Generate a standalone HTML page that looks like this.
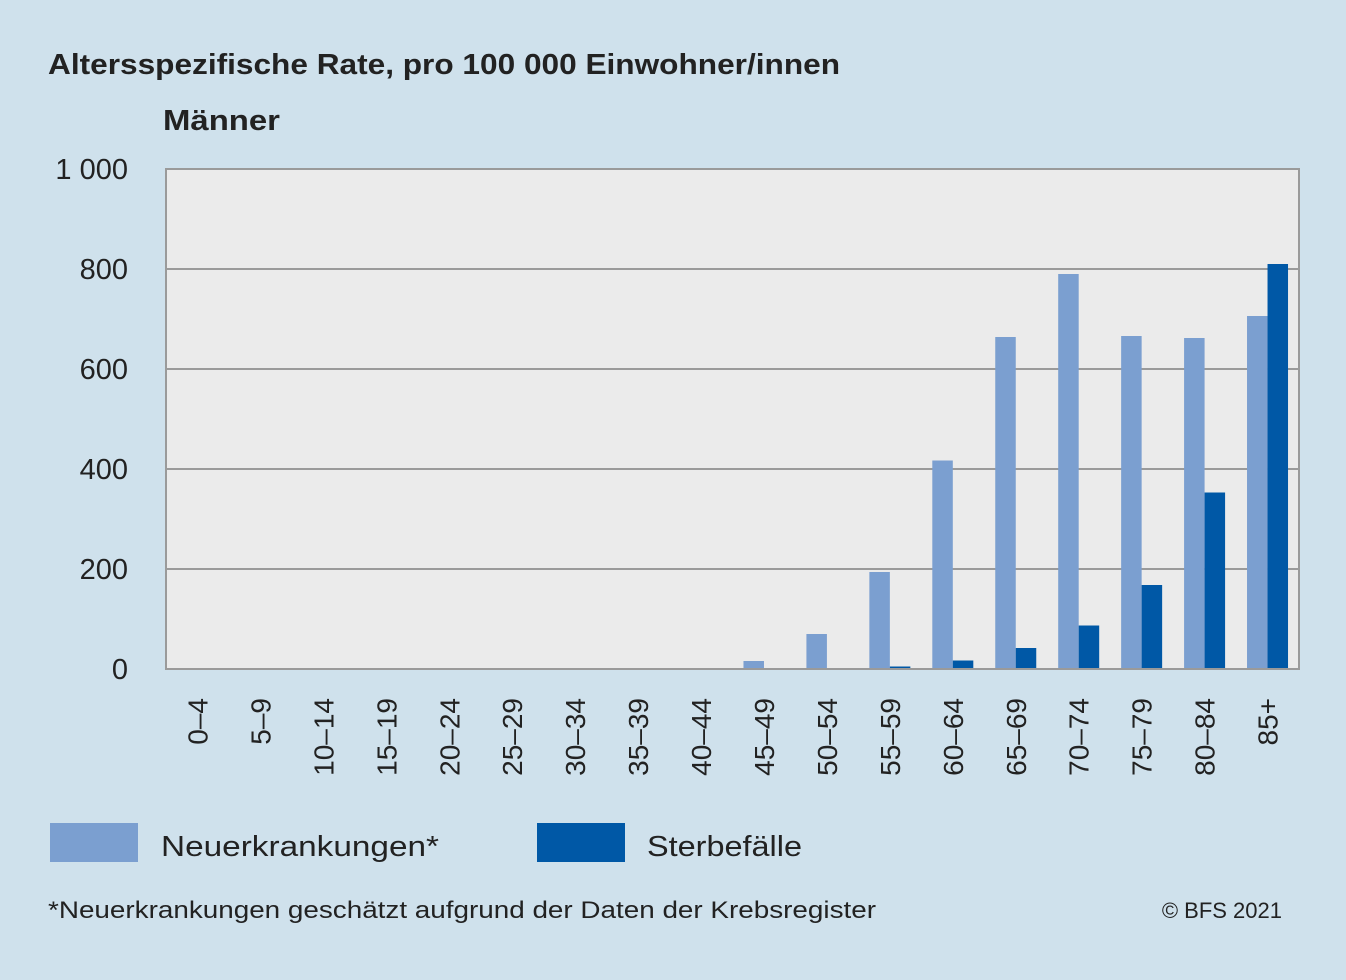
<!DOCTYPE html>
<html><head><meta charset="utf-8"><style>
body{margin:0;width:1346px;height:975px;background:#cfe1ec;font-family:"Liberation Sans",sans-serif;overflow:hidden}
</style></head><body>
<svg width="1346" height="975" id="c">
<text x="48" y="74" font-size="29" font-weight="bold" fill="#222" textLength="792" lengthAdjust="spacingAndGlyphs">Altersspezifische Rate, pro 100 000 Einwohner/innen</text>
<text x="163" y="130" font-size="29" font-weight="bold" fill="#222" textLength="117" lengthAdjust="spacingAndGlyphs">Männer</text>
<rect x="166" y="169" width="1133" height="500" fill="#ebebeb"/>
<g id="grid"></g><g id="bars"></g><g id="xt"></g>
<rect x="166" y="169" width="1133" height="500" fill="none" stroke="#9a9a9a" stroke-width="2"/>
<rect x="50" y="823" width="88" height="39" fill="#7b9fd0"/>
<text x="161" y="856" font-size="29" fill="#222" textLength="278" lengthAdjust="spacingAndGlyphs">Neuerkrankungen*</text>
<rect x="537" y="823" width="88" height="39" fill="#0058a6"/>
<text x="647" y="856" font-size="29" fill="#222" textLength="155" lengthAdjust="spacingAndGlyphs">Sterbefälle</text>
<text x="48" y="918" font-size="24" fill="#222" textLength="828" lengthAdjust="spacingAndGlyphs">*Neuerkrankungen geschätzt aufgrund der Daten der Krebsregister</text>
<text x="1282" y="918" font-size="22" fill="#222" text-anchor="end">© BFS 2021</text>
</svg>
<script>
const categories=["0–4","5–9","10–14","15–19","20–24","25–29","30–34","35–39","40–44","45–49","50–54","55–59","60–64","65–69","70–74","75–79","80–84","85+"];
const incidence=[0,0,0,0,0,0,0,0,2,16,70,194,417,664,790,666,662,706];
const deaths=[0,0,0,0,0,0,0,0,0,0,2,5,17,42,87,168,353,810];
const yTicks=[0,200,400,600,800,1000];
const yTickLabels=["0","200","400","600","800","1 000"];
const NS="http://www.w3.org/2000/svg";
const x0=166,w=1133,yb=669,h=500,ymax=1000;
const band=w/categories.length;
const y=v=>yb-v/ymax*h;
const xs=i=>x0+i*band;
function mk(t,a,p){const e=document.createElementNS(NS,t);for(const k in a)e.setAttribute(k,a[k]);p.appendChild(e);return e;}
const g=document.getElementById('grid');
yTicks.forEach((t,i)=>{
 const l=mk('line',{x1:x0,x2:x0+w,y1:y(t),y2:y(t),stroke:'#9a9a9a','stroke-width':2},g);
 
 
 const tx=mk('text',{x:128,y:y(t)+10,'font-size':29,fill:'#222','text-anchor':'end'},g);
 tx.textContent=yTickLabels[i];
 
 
});
const b=document.getElementById('bars'),xt=document.getElementById('xt');
const bw=20.5;
categories.forEach((c,i)=>{
 const cx=xs(i)+band/2;
 const r1=mk('rect',{x:cx-bw,y:y(incidence[i]),width:bw,height:yb-y(incidence[i]),fill:'#7b9fd0'},b);
 
 
 const r2=mk('rect',{x:cx,y:y(deaths[i]),width:bw,height:yb-y(deaths[i]),fill:'#0058a6'},b);
 
 
 const t=mk('text',{x:0,y:0,'font-size':28,fill:'#222','text-anchor':'end',transform:`translate(${cx+10},698) rotate(-90)`},xt);
 t.textContent=c;
 
 
});
</script>
</body></html>
